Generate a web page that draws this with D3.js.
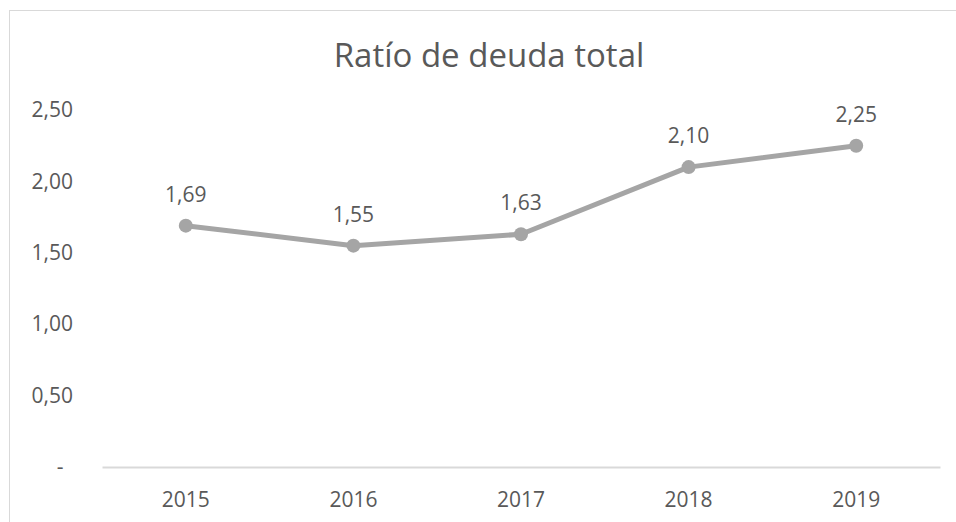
<!DOCTYPE html>
<html><head><meta charset="utf-8">
<script src="https://cdn.jsdelivr.net/npm/d3@7"></script>
<style>body{margin:0;background:#fff}svg{display:block}text{font-family:"Open Sans",sans-serif;fill:#595959}</style>
</head><body><svg id="c" width="956" height="522"></svg>
<script>
const title = "Ratío de deuda total";
const years = ["2015","2016","2017","2018","2019"];
const ratio = [1.69,1.55,1.63,2.10,2.25];
const yTicks = [0,0.5,1.0,1.5,2.0,2.5];

const svg = d3.select("#c");
svg.append("rect").attr("x",9.5).attr("y",10.5).attr("width",960).attr("height",530)
  .attr("fill","#fff").attr("stroke","#d9d9d9").attr("stroke-width",1);

const x = d3.scaleBand().domain(years).range([102,940]);
const y = d3.scaleLinear().domain([0,2.5]).range([467,110]);
const fmt = v => d3.format(".2f")(v).replace(".",",");

svg.append("text").attr("x",489).attr("y",67).attr("text-anchor","middle")
  .style("font-size","33px").text(title);

const ya = svg.append("g").attr("transform","translate(73,0)")
  .call(d3.axisLeft(y).tickValues(yTicks).tickFormat(v => v===0 ? "-" : fmt(v)).tickSize(0).tickPadding(0));
ya.select(".domain").remove();
ya.selectAll("text").style("font-size","21px").attr("fill","#595959").style("font-family","Open Sans");
ya.selectAll(".tick").filter(d => d===0).select("text").attr("x",-13).attr("text-anchor","middle");

const xa = svg.append("g").attr("transform","translate(0,467)")
  .call(d3.axisBottom(x).tickSize(0).tickPadding(25));
xa.select(".domain").attr("stroke","#d9d9d9").attr("stroke-width",2);
xa.selectAll("text").style("font-size","21px").attr("fill","#595959").style("font-family","Open Sans");

const cx = d => x(d) + x.bandwidth()/2;
const line = d3.line().x((d,i)=>cx(years[i])).y(d=>y(d));
svg.append("path").datum(ratio).attr("d",line).attr("fill","none")
  .attr("stroke","#a5a5a5").attr("stroke-width",5).attr("stroke-linejoin","round");
svg.selectAll("circle.pt").data(ratio).join("circle").attr("class","pt")
  .attr("cx",(d,i)=>cx(years[i])).attr("cy",d=>y(d)).attr("r",7).attr("fill","#a5a5a5");
svg.selectAll("text.lbl").data(ratio).join("text").attr("class","lbl")
  .attr("x",(d,i)=>cx(years[i])).attr("y",d=>y(d)-24).attr("text-anchor","middle")
  .style("font-size","21px").text(fmt);
</script></body></html>
